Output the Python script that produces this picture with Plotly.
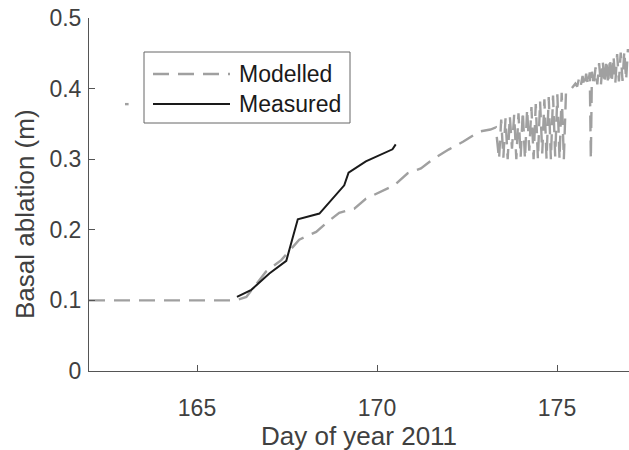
import plotly.graph_objects as go

# ---------------- data ----------------
modelled_day = [
    163.00, 163.10, None,
    162.00, 166.07, 166.37, 166.92, 167.34, 167.84, 168.31, 168.62, 168.95,
    169.37, 169.69, 170.10, 170.48, 170.85, 171.22, 171.58, 172.00, 172.40,
    172.83, 173.15, 173.30,
    173.39, 173.45, 173.51, 173.57, 173.63, 173.69, 173.75, 173.81, 173.87,
    173.93, 173.99, 174.05, 174.11, 174.17, 174.23, 174.29, 174.35, 174.41,
    174.47, 174.53, 174.59, 174.65, 174.71, 174.77, 174.83, 174.89, 174.95,
    175.01, 175.07, 175.13, 175.19, 175.25, 175.40,
    175.51, 175.56, 175.61, 175.66, 175.71, 175.76, 175.81, 175.86, 175.91,
    175.94, 175.97, 176.02, 176.07, 176.12, 176.17, 176.22, 176.27, 176.32,
    176.37, 176.42, 176.47, 176.52, 176.57, 176.62, 176.67, 176.72, 176.77,
    176.82, 176.87, 176.92, 176.97,
]
modelled_ablation = [
    0.378, 0.378, None,
    0.100, 0.100, 0.105, 0.141, 0.157, 0.186, 0.197, 0.211, 0.224,
    0.230, 0.244, 0.254, 0.263, 0.280, 0.287, 0.301, 0.314, 0.325,
    0.339, 0.342, 0.345,
    0.300, 0.356, 0.302, 0.358, 0.300, 0.361, 0.315, 0.363, 0.300,
    0.365, 0.303, 0.368, 0.300, 0.371, 0.312, 0.374, 0.300, 0.378,
    0.300, 0.382, 0.308, 0.385, 0.300, 0.388, 0.300, 0.390, 0.304,
    0.392, 0.300, 0.394, 0.300, 0.396, 0.400,
    0.407, 0.403, 0.414, 0.404, 0.418, 0.403, 0.421, 0.405, 0.423,
    0.300, 0.424, 0.404, 0.430, 0.406, 0.436, 0.405, 0.439, 0.407,
    0.441, 0.406, 0.443, 0.408, 0.446, 0.408, 0.449, 0.410, 0.451,
    0.411, 0.453, 0.412, 0.456,
]

measured_day = [166.11, 166.51, 167.01, 167.48, 167.80, 168.40, 169.09,
                169.21, 169.69, 170.43, 170.52]
measured_ablation = [0.105, 0.115, 0.138, 0.156, 0.215, 0.223, 0.263,
                     0.281, 0.297, 0.314, 0.321]

x_ticks = [165, 170, 175]
y_ticks = [0, 0.1, 0.2, 0.3, 0.4, 0.5]
y_tick_labels = ["0", "0.1", "0.2", "0.3", "0.4", "0.5"]
series_names = ["Modelled", "Measured"]

# ---------------- style ----------------
FONT = "Liberation Sans, Arial, Helvetica, sans-serif"
TXT = "#404040"
AX = "#555555"
GRAY = "#a0a0a0"
BLACK = "#1a1a1a"
DASH = "16px,9px"

fig = go.Figure()
fig.add_trace(go.Scatter(x=modelled_day, y=modelled_ablation, mode="lines",
                         name=series_names[0], connectgaps=False,
                         line=dict(color=GRAY, width=2.4, dash=DASH),
                         showlegend=False))
fig.add_trace(go.Scatter(x=measured_day, y=measured_ablation, mode="lines",
                         name=series_names[1],
                         line=dict(color=BLACK, width=2),
                         showlegend=False))

W, H = 629, 450
L, R, T, B = 89, 0, 18, 79
pw, ph = W - L - R, H - T - B


def px(xp):
    return (xp - L) / pw


def py(yp):
    return (H - B - yp) / ph


shapes = [
    dict(type="rect", xref="paper", yref="paper", x0=px(144), x1=px(350),
         y0=py(123), y1=py(52), line=dict(color="#666666", width=1),
         fillcolor="white", layer="above"),
    dict(type="line", xref="paper", yref="paper", x0=px(153), x1=px(230),
         y0=py(74), y1=py(74), line=dict(color=GRAY, width=2.3, dash=DASH),
         layer="above"),
    dict(type="line", xref="paper", yref="paper", x0=px(153), x1=px(230),
         y0=py(104), y1=py(104), line=dict(color=BLACK, width=2),
         layer="above"),
]
annotations = [
    dict(text=series_names[0], xref="paper", yref="paper", x=px(237), y=py(74),
         xanchor="left", yanchor="middle", showarrow=False,
         font=dict(family=FONT, size=23, color=BLACK)),
    dict(text=series_names[1], xref="paper", yref="paper", x=px(237), y=py(104),
         xanchor="left", yanchor="middle", showarrow=False,
         font=dict(family=FONT, size=23, color=BLACK)),
    dict(text="Day of year 2011", xref="paper", yref="paper", x=0.5, y=py(436),
         xanchor="center", yanchor="middle", showarrow=False,
         font=dict(family=FONT, size=26, color=TXT)),
    dict(text="Basal ablation (m)", xref="paper", yref="paper", x=px(25),
         y=py(214), xanchor="center", yanchor="middle", textangle=-90,
         showarrow=False, font=dict(family=FONT, size=26, color=TXT)),
]

fig.update_layout(
    width=W, height=H,
    margin=dict(l=L, r=R, t=T, b=B, pad=0, autoexpand=False),
    paper_bgcolor="white", plot_bgcolor="white",
    font=dict(family=FONT, color=TXT),
    shapes=shapes, annotations=annotations,
    xaxis=dict(range=[162, 177], tickvals=x_ticks, showgrid=False,
               zeroline=False, showline=True, linecolor=AX, linewidth=1,
               ticks="inside", ticklen=6, tickcolor=AX, tickwidth=1,
               tickfont=dict(family=FONT, size=23, color=TXT),
               ticklabelstandoff=16, automargin=False),
    yaxis=dict(range=[0, 0.5], tickvals=y_ticks, ticktext=y_tick_labels,
               showgrid=False, zeroline=False, showline=True, linecolor=AX,
               linewidth=1, ticks="inside", ticklen=6, tickcolor=AX,
               tickwidth=1, tickfont=dict(family=FONT, size=23, color=TXT),
               ticklabelstandoff=2, automargin=False),
)

fig.write_html(
    "out.html",
    config={"displayModeBar": False},
    post_script="document.body.style.margin='0';document.body.style.padding='0';",
)
